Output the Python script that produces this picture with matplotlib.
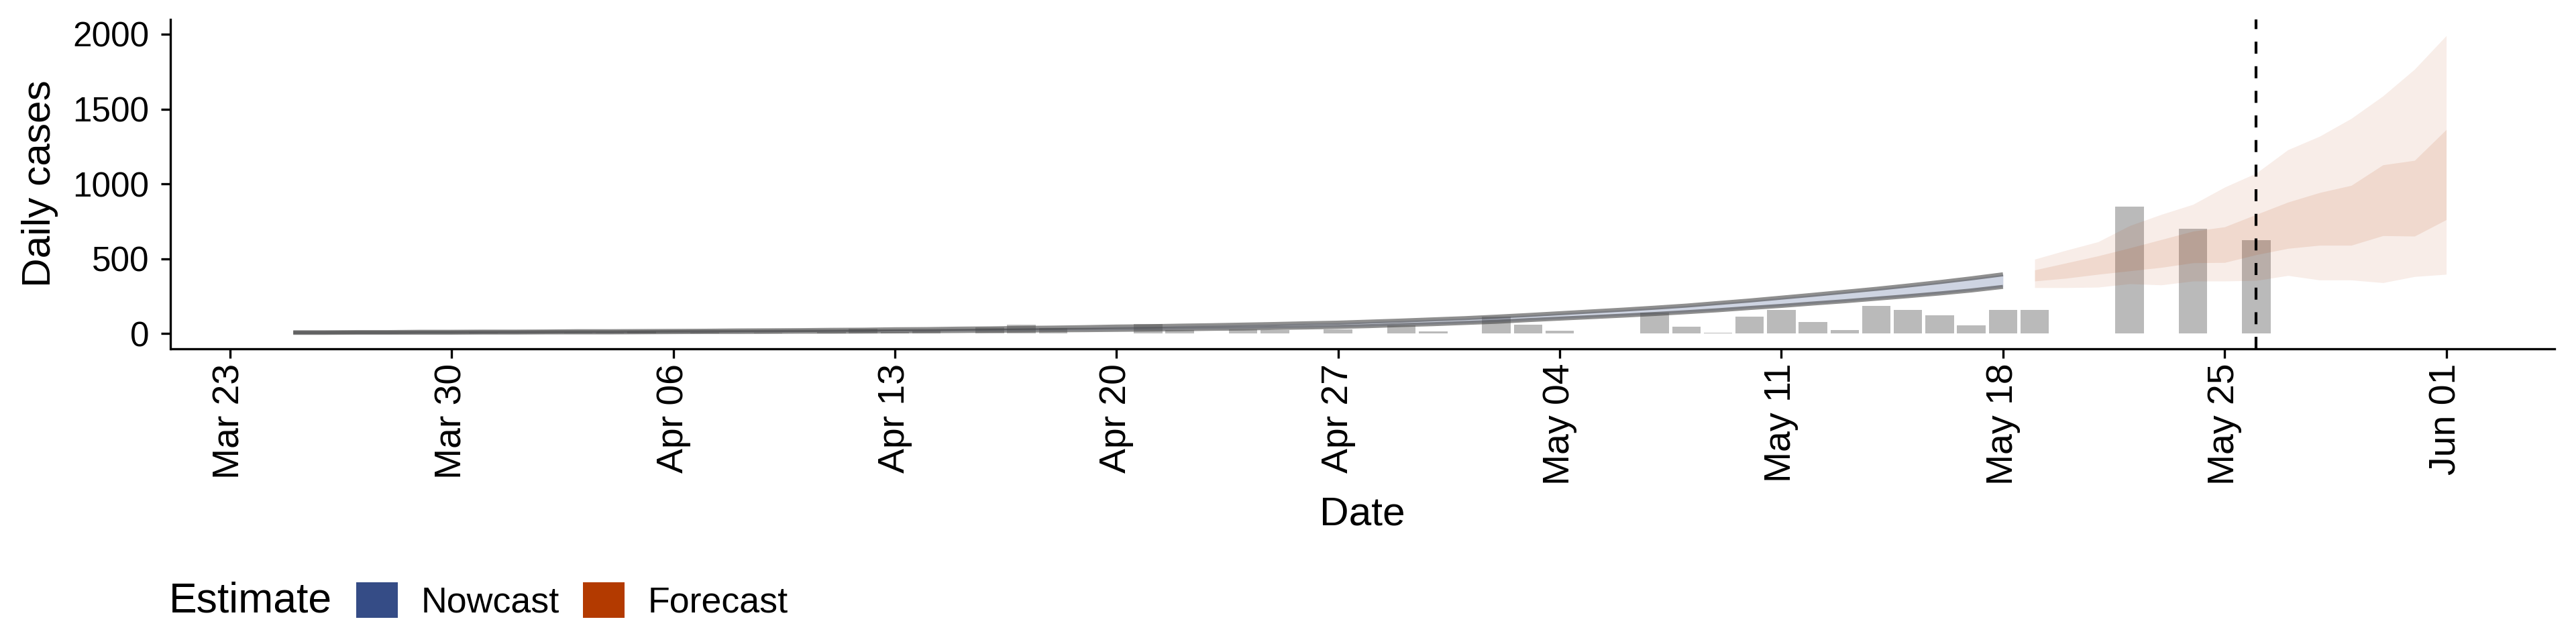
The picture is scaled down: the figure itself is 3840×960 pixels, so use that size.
import numpy as np
import matplotlib
matplotlib.use("Agg")
import matplotlib.pyplot as plt
import matplotlib.dates as mdates
from matplotlib.patches import Patch

plt.rcParams['font.family'] = ['Liberation Sans', 'DejaVu Sans']

# ---------------- data ----------------
bar_start = '2020-03-25'
case_counts = [2, 0, 0, 0, 0, 0, 4, 3, 0, 6, 6, 14, 0, 4, 0, 6, 0,          # Mar 25 - Apr 10
               10, 34, 10, 18, 0, 43, 61, 39, 0, 0,                          # Apr 11 - Apr 20
               64, 23, 3, 27, 25, 0, 30, 0, 57, 16,                          # Apr 21 - Apr 30
               0, 114, 61, 20, 0, 0, 142, 48, 4, 115,                        # May 01 - May 10
               160, 79, 25, 187, 160, 124, 57, 160, 160, 0,                  # May 11 - May 20
               0, 847, 0, 699, 0, 624]                                       # May 21 - May 26

nowcast_start = '2020-03-25'
nowcast_lower = [5, 5, 6, 6, 6, 6, 7, 7, 8, 8, 8, 9, 10, 11, 11, 12, 13,
                 13, 14, 15, 16, 17, 19, 20, 22, 23, 25,
                 27, 29, 32, 34, 38, 41, 45, 50, 57, 63,
                 71, 79, 90, 100, 110, 120, 131, 143, 156, 171,
                 185, 201, 216, 233, 250, 268, 288, 312]
nowcast_upper = [9, 9, 10, 10, 12, 12, 13, 13, 14, 16, 16, 17, 18, 19, 21, 22, 23,
                 25, 26, 29, 30, 33, 35, 38, 40, 43, 47,
                 49, 53, 56, 60, 64, 69, 73, 80, 87, 95,
                 103, 113, 124, 136, 148, 160, 173, 187, 204, 221,
                 240, 259, 279, 299, 321, 344, 369, 396]

forecast_start = '2020-05-19'
forecast_outer_lower = [307, 307, 310, 333, 325, 351, 351, 355, 388, 358, 358, 340, 381, 396]
forecast_inner_lower = [351, 370, 396, 419, 442, 473, 475, 527, 569, 590, 590, 654, 651, 761]
forecast_inner_upper = [425, 472, 519, 572, 628, 684, 713, 796, 878, 942, 990, 1127, 1157, 1363]
forecast_outer_upper = [497, 557, 613, 721, 796, 863, 978, 1072, 1228, 1318, 1437, 1587, 1766, 1990]

report_date = '2020-05-26'
x_tick_dates = ['2020-03-23', '2020-03-30', '2020-04-06', '2020-04-13', '2020-04-20',
                '2020-04-27', '2020-05-04', '2020-05-11', '2020-05-18', '2020-05-25',
                '2020-06-01']
y_ticks = [0, 500, 1000, 1500, 2000]
legend_title = 'Estimate'
legend_labels = ['Nowcast', 'Forecast']

# ---------------- styling ----------------
nowcast_col = '#354C86'
forecast_col = '#B33A00'
bar_col = '#BABABA'


def day_range(start, n):
    return mdates.date2num(np.datetime64(start) + np.arange(n).astype('timedelta64[D]'))


bar_x = day_range(bar_start, len(case_counts))
now_x = day_range(nowcast_start, len(nowcast_lower))
fc_x = day_range(forecast_start, len(forecast_outer_lower))
tick_x = mdates.date2num(np.array(x_tick_dates, dtype='datetime64[D]'))
ref_x = mdates.date2num(np.datetime64(report_date))

fig = plt.figure(figsize=(12.8, 3.2), dpi=300)
ax = fig.add_axes([254.5 / 3840, 1 - 519.6 / 960, (3808 - 254.5) / 3840, (519.6 - 28.6) / 960])

ax.bar(bar_x, case_counts, width=0.9, color=bar_col, linewidth=0, zorder=1)

# nowcast band
ax.fill_between(now_x, nowcast_lower, nowcast_upper, color=nowcast_col, alpha=0.24,
                linewidth=0, zorder=2)
for series in (nowcast_upper, nowcast_lower):
    ax.plot(now_x, series, color='#4a4a4a', alpha=0.62, linewidth=1.45,
            solid_capstyle='butt', zorder=3)

# forecast ribbons
ax.fill_between(fc_x, forecast_outer_lower, forecast_outer_upper, color=forecast_col,
                alpha=0.09, linewidth=0, zorder=2)
ax.fill_between(fc_x, forecast_inner_lower, forecast_inner_upper, color=forecast_col,
                alpha=0.11, linewidth=0, zorder=2)

ax.axvline(ref_x, color='black', linewidth=1.0, linestyle=(0, (4.3, 4.5)), zorder=4)

t0 = mdates.date2num(np.datetime64('2020-03-23'))
ax.set_xlim(t0 - 1.87, t0 + 73.42)
ax.set_ylim(-100, 2100)

ax.set_xticks(tick_x)
ax.set_xticklabels([mdates.num2date(t).strftime('%b %d') for t in tick_x], rotation=90)
ax.set_yticks(y_ticks)

for s in ('top', 'right'):
    ax.spines[s].set_visible(False)
for s in ('left', 'bottom'):
    ax.spines[s].set_linewidth(0.8)
    ax.spines[s].set_color('black')

ax.tick_params(axis='both', direction='out', length=3.3, width=0.8, color='black',
               labelsize=12.3, labelcolor='black')
ax.tick_params(axis='x', pad=2, labelsize=13.3)
ax.tick_params(axis='y', pad=4.4)

ax.set_xlabel('Date', fontsize=14.5, labelpad=4)
ax.set_ylabel('Daily cases', fontsize=14.5, labelpad=5)

# legend
fig.text(252 / 3840, 1 - 896 / 960, legend_title, fontsize=15, ha='left', va='center')
handles = [Patch(facecolor=nowcast_col, edgecolor='none'),
           Patch(facecolor=forecast_col, edgecolor='none')]
fig.legend(handles, legend_labels, loc='center left',
           bbox_to_anchor=(531 / 3840, 1 - 896 / 960), ncol=2, frameon=False,
           fontsize=12.9, handlelength=1.15, handleheight=1.15, handletextpad=0.65,
           columnspacing=0.65, borderpad=0, borderaxespad=0)

fig.savefig('out.png', dpi=300)
